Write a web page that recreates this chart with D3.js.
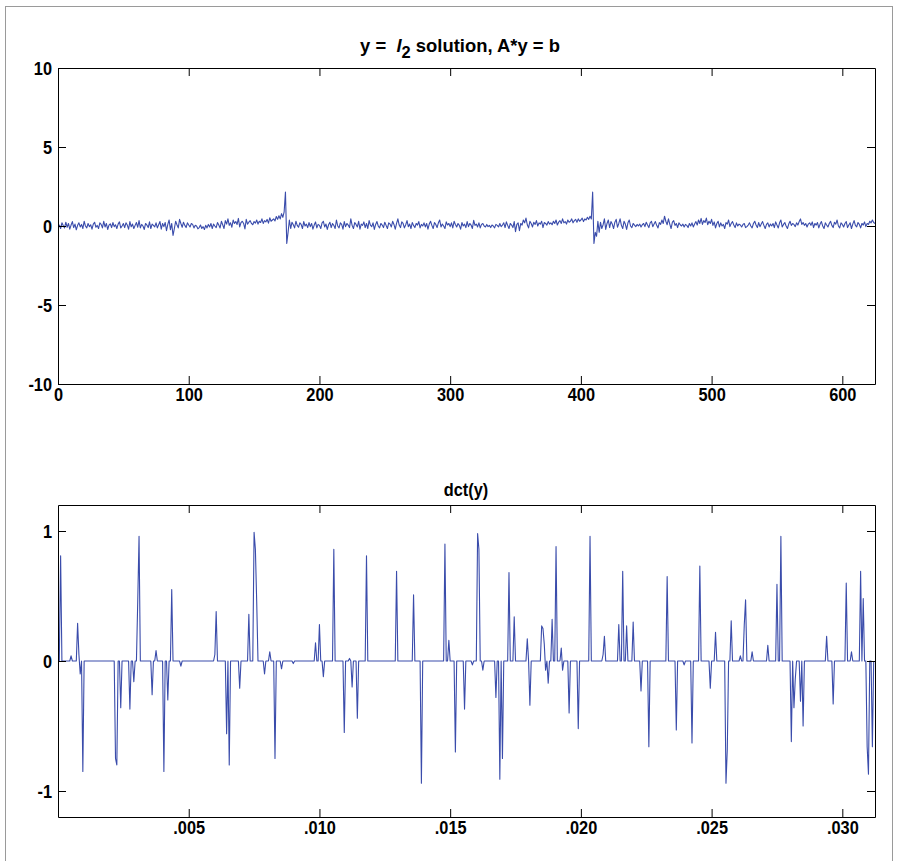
<!DOCTYPE html>
<html>
<head>
<meta charset="utf-8">
<script src="https://cdn.jsdelivr.net/npm/d3@7"></script>
<style>
  body { margin: 0; background: #fff; }
  svg text { font-family: "Liberation Sans", Arial, Helvetica, sans-serif; font-weight: bold; }
</style>
</head>
<body>
<svg id="fig" width="897" height="861"></svg>
<script>
// top panel: y = l2 solution (625 samples)
const ySolution = [
  0.08,-0.16,0.2,0.03,-0.12,0.24,-0.08,0.16,-0.2,0.06,0.28,-0.1,0.12,-0.24,0.04,0.2,-0.06,0.1,-0.16,0.3,0.0,-0.12,0.16,-0.04,0.08,
  -0.2,0.12,0.24,-0.08,0.04,-0.16,0.2,0.1,-0.12,0.3,-0.06,0.16,-0.22,0.05,0.14,-0.1,0.22,-0.04,0.08,-0.16,0.12,0.26,-0.12,0.0,0.16,
  -0.1,0.2,0.06,-0.2,0.28,-0.05,0.12,-0.16,0.04,0.22,-0.08,0.34,-0.12,0.1,0.0,-0.22,0.16,0.06,-0.1,0.26,-0.16,0.12,0.04,-0.06,0.2,
  -0.12,0.08,0.28,-0.2,0.16,-0.04,0.22,-0.3,0.1,0.38,-0.24,0.16,-0.6,-0.16,0.3,0.08,-0.12,0.42,0.16,-0.08,0.24,0.04,-0.1,0.2,0.06,
  -0.06,0.16,0.1,-0.12,0.04,0.0,-0.18,-0.1,0.06,-0.16,-0.04,-0.22,0.04,-0.12,0.1,-0.06,0.16,-0.16,0.12,0.0,-0.1,0.22,0.06,-0.12,0.3,
  0.08,-0.16,0.34,0.12,0.45,0.04,0.2,-0.08,0.38,0.16,0.28,0.1,0.48,-0.06,0.22,0.3,0.16,-0.18,0.42,0.12,0.24,0.34,0.16,0.08,0.28,
  0.18,0.38,0.12,0.3,0.22,0.45,0.16,0.34,0.26,0.42,0.18,0.52,0.3,0.38,0.45,0.32,0.6,0.42,0.65,0.45,0.78,0.55,0.9,2.15,-1.1,
  -0.4,0.38,-0.16,0.24,0.08,-0.12,0.3,0.04,-0.08,0.2,0.1,-0.16,0.28,0.0,0.12,-0.1,0.22,-0.04,0.16,-0.2,0.06,0.26,-0.12,0.1,0.04,
  -0.16,0.2,0.3,-0.06,0.12,-0.22,0.08,0.24,-0.1,0.16,0.04,-0.16,0.38,0.0,-0.12,0.2,0.1,-0.2,0.28,-0.04,0.16,0.06,-0.1,0.45,0.04,
  -0.16,0.22,0.1,-0.06,0.3,-0.2,0.12,0.04,0.26,-0.1,0.16,-0.16,0.34,0.06,-0.04,0.2,-0.22,0.1,0.28,0.0,-0.12,0.16,0.06,-0.1,0.24,
  0.04,-0.16,0.2,0.12,-0.06,0.3,0.1,-0.2,0.16,0.45,0.06,-0.1,0.26,0.16,-0.12,0.08,0.34,-0.04,0.12,-0.16,0.22,0.04,-0.1,0.16,0.06,
  0.28,-0.12,0.1,0.0,0.2,-0.06,0.16,-0.2,0.12,0.3,0.04,-0.16,0.22,0.1,-0.1,0.2,0.38,-0.06,0.12,0.0,-0.16,0.26,0.06,0.16,-0.04,
  0.2,-0.12,0.3,0.1,-0.06,0.16,0.04,-0.2,0.22,0.0,0.12,-0.1,0.28,-0.04,0.16,0.06,-0.16,0.36,0.04,0.12,-0.06,0.2,-0.12,0.1,0.16,
  0.0,-0.06,0.1,-0.04,0.04,-0.1,0.06,0.0,-0.12,0.1,0.04,-0.06,0.16,-0.04,0.06,0.2,-0.1,0.26,0.04,-0.16,0.16,0.06,-0.1,0.28,-0.36,
  0.1,0.2,-0.3,0.16,0.06,0.38,0.2,0.5,0.08,-0.12,0.3,0.16,-0.06,0.24,0.1,0.34,0.0,0.2,0.12,0.3,-0.1,0.22,0.16,0.06,0.28,
  0.12,0.2,0.08,0.3,0.16,0.38,0.06,0.24,0.34,0.16,0.45,0.2,0.28,0.12,0.38,0.24,0.3,0.45,0.2,0.34,0.42,0.24,0.45,0.3,0.38,
  0.5,0.28,0.45,0.38,0.55,0.42,0.62,0.45,2.15,-1.1,-0.4,-0.65,0.3,-0.4,0.24,-0.16,0.08,0.45,-0.22,0.16,0.38,-0.1,0.28,0.12,-0.16,
  0.24,0.42,-0.08,0.16,0.45,0.04,-0.16,0.3,0.12,-0.22,0.2,0.38,0.0,-0.1,0.16,0.06,-0.04,0.1,0.0,0.12,-0.06,0.08,0.16,-0.04,0.24,
  0.06,-0.1,0.2,0.3,-0.04,0.12,0.28,0.04,-0.12,0.22,0.1,0.38,0.16,0.62,0.3,0.08,0.45,0.12,-0.16,0.24,0.34,0.04,0.16,-0.1,0.2,
  0.08,0.0,0.12,-0.06,0.1,0.04,-0.1,0.16,0.0,0.2,-0.06,0.12,0.28,0.06,0.38,0.16,0.48,0.1,0.34,0.22,0.5,0.08,0.3,0.16,0.42,
  0.04,0.26,-0.12,0.16,0.3,-0.06,0.2,0.0,0.1,-0.16,0.22,0.12,0.38,-0.04,0.16,0.28,0.06,-0.1,0.2,0.0,0.12,0.06,-0.06,0.1,0.16,
  -0.1,-0.04,0.06,0.2,0.0,-0.12,0.16,0.3,0.06,-0.1,0.22,-0.04,0.12,0.28,0.04,-0.16,0.1,0.2,-0.06,0.12,0.0,0.16,-0.1,0.26,0.06,
  -0.12,0.2,0.38,-0.06,0.1,0.22,0.0,-0.16,0.12,0.3,0.04,0.16,0.1,-0.04,0.2,0.06,0.28,0.45,0.1,0.22,0.04,0.16,-0.06,0.12,0.2,
  0.04,0.26,-0.1,0.16,0.06,0.22,-0.12,0.12,0.28,0.0,-0.16,0.2,0.06,-0.06,0.16,0.3,0.04,-0.1,0.24,0.12,0.38,0.0,-0.12,0.2,0.1,
  -0.06,0.16,0.28,-0.1,0.06,0.2,-0.16,0.12,0.34,0.04,-0.06,0.22,0.1,-0.12,0.16,0.06,0.26,-0.04,0.16,0.1,0.3,0.2,0.38,0.22,0.16
]

// bottom panel: dct(y), nonzero coefficients as [index, value]
const dctIndex = [
  2,10,15,16,17,19,44,45,48,55,58,61,62,72,75,81,84,87,94,120,121,129,131,139,146,150,151,152,158,162,
  166,171,180,197,200,203,211,219,223,225,229,236,259,272,278,296,299,304,311,317,321,322,325,335,338,340,345,349,359,361,
  370,371,372,373,375,378,381,385,386,391,398,407,417,418,429,432,435,440,446,452,466,473,479,485,491,499,503,511,512,515,
  522,525,526,531,543,550,553,561,563,564,568,570,588,593,603,607,614,616,619,620,623
]
const dctValue = [
  0.81,0.04,0.29,0.05,-0.10,-0.85,-0.75,-0.80,-0.36,-0.37,-0.16,0.46,0.96,-0.26,0.08,-0.85,-0.30,0.55,-0.04,0.05,0.38,-0.56,-0.80,-0.21,0.36,0.99,0.86,0.46,-0.10,0.07,
  -0.75,-0.06,-0.02,0.14,0.28,-0.12,0.86,-0.55,0.02,-0.20,-0.44,0.81,0.69,0.51,-0.94,0.90,0.16,-0.70,-0.37,-0.03,0.98,0.86,-0.07,-0.28,-0.91,-0.75,0.68,0.34,0.17,-0.34,
  0.27,0.25,0.13,-0.07,-0.17,0.32,0.88,0.10,-0.07,-0.40,-0.52,0.96,0.05,0.19,0.28,0.69,0.27,0.30,-0.23,-0.66,0.65,-0.53,-0.03,-0.63,0.73,-0.21,0.22,-0.94,-0.68,0.31,
  0.04,0.28,0.47,0.07,0.12,0.59,0.96,-0.62,-0.36,-0.14,-0.31,-0.50,0.19,-0.33,0.60,0.07,0.69,0.48,-0.66,-0.87,-0.66
]

const topXTicks = [0, 100, 200, 300, 400, 500, 600]
const topYTicks = [-10, -5, 0, 5, 10]
const botXTicks = [0.005, 0.010, 0.015, 0.020, 0.025, 0.030]
const botYTicks = [-1, 0, 1]

const n = ySolution.length
const dct = new Array(n).fill(0)
dctIndex.forEach((k, i) => { dct[k] = dctValue[i] })

const lineColor = '#3a4cab'
const fontSize = 19
const squeeze = 0.86 // labels in the original are condensed
const svg = d3.select('#fig')

// figure frame
svg.append('rect')
  .attr('x', 5.5).attr('y', 6.5)
  .attr('width', 887).attr('height', 870)
  .attr('fill', 'none').attr('stroke', '#9a9a9a')

function condense (sel) {
  sel.each(function () {
    const w = this.getComputedTextLength()
    if (w > 0) {
      d3.select(this)
        .attr('textLength', w * squeeze)
        .attr('lengthAdjust', 'spacingAndGlyphs')
    }
  })
}

function panel (opts) {
  const { x, y, data, xTicks, yTicks, xFmt, yFmt } = opts
  const g = svg.append('g')
  const [x0, x1] = x.range()
  const [y0, y1] = y.range()

  g.append('path')
    .datum(data)
    .attr('fill', 'none')
    .attr('stroke', lineColor)
    .attr('stroke-width', 1.1)
    .attr('stroke-linejoin', 'round')
    .attr('d', d3.line().x(d => x(d[0])).y(d => y(d[1])))

  const tk = 8
  g.append('g').attr('transform', `translate(0,${y0})`)
    .call(d3.axisBottom(x).tickValues(xTicks).tickFormat(xFmt).tickSizeInner(-tk).tickSizeOuter(0).tickPadding(4))
  g.append('g').attr('transform', `translate(0,${y1})`)
    .call(d3.axisTop(x).tickValues(xTicks).tickFormat('').tickSizeInner(-tk).tickSizeOuter(0))
  g.append('g').attr('transform', `translate(${x0},0)`)
    .call(d3.axisLeft(y).tickValues(yTicks).tickFormat(yFmt).tickSizeInner(-tk).tickSizeOuter(0).tickPadding(6))
  g.append('g').attr('transform', `translate(${x1},0)`)
    .call(d3.axisRight(y).tickValues(yTicks).tickFormat('').tickSizeInner(-tk).tickSizeOuter(0))

  g.selectAll('.tick text')
    .attr('font-size', fontSize)
    .attr('font-family', null)
    .attr('fill', '#000')
    .call(condense)
  g.selectAll('.tick line').attr('stroke', '#000')
  g.selectAll('.domain').attr('stroke', '#000')
  return g
}

// top panel
const xTop = d3.scaleLinear().domain([0, 625]).range([58, 875])
const yTop = d3.scaleLinear().domain([-10, 10]).range([384, 68])
panel({
  x: xTop,
  y: yTop,
  data: ySolution.map((v, i) => [i + 1, v]),
  xTicks: topXTicks,
  yTicks: topYTicks,
  xFmt: d => String(d),
  yFmt: d => String(d)
})

const t1 = svg.append('text')
  .attr('transform', 'translate(460,52) scale(0.97,1)')
  .attr('text-anchor', 'middle')
  .attr('font-size', fontSize)
t1.append('tspan').text('y =\u00a0\u00a0')
t1.append('tspan').attr('font-style', 'italic').text('l')
t1.append('tspan').attr('dy', 6).attr('font-size', 17).text('2')
t1.append('tspan').attr('dy', -6).text(' solution, A*y = b')

// bottom panel
const xBot = d3.scaleLinear().domain([0, 0.03125]).range([58, 875])
const yBot = d3.scaleLinear().domain([-1.2, 1.2]).range([817, 505])
panel({
  x: xBot,
  y: yBot,
  data: dct.map((v, i) => [i / 20000, v]),
  xTicks: botXTicks,
  yTicks: botYTicks,
  xFmt: d => d3.format('.3f')(d).replace(/^0/, ''),
  yFmt: d => String(d)
})

svg.append('text')
  .attr('transform', `translate(466,496) scale(${squeeze},1)`)
  .attr('text-anchor', 'middle')
  .attr('font-size', fontSize)
  .text('dct(y)')
</script>
</body>
</html>
